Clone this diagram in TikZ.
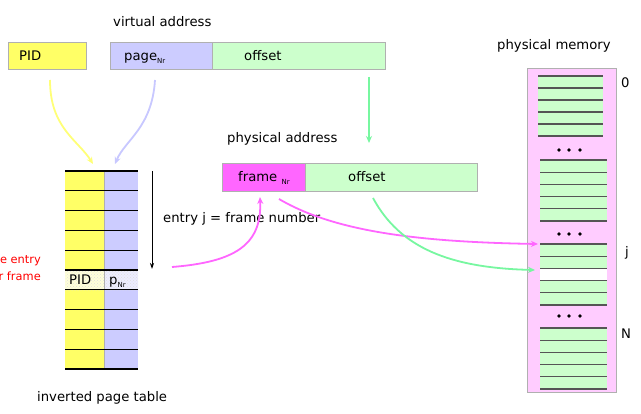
\documentclass[tikz,border=0pt]{standalone}
\usepackage{fontspec}
\setmainfont{DejaVu Sans}
\usetikzlibrary{arrows.meta,patterns}
\definecolor{vyellow}{HTML}{FFFF66}
\definecolor{vlav}{HTML}{CCCCFF}
\definecolor{vgreen}{HTML}{CCFFCC}
\definecolor{vmag}{HTML}{FF66FF}
\definecolor{vpink}{HTML}{FFCCFF}
\definecolor{agreen}{HTML}{77F7A0}
\definecolor{ayellow}{HTML}{FFFF77}
\definecolor{alav}{HTML}{C8C8FF}
\definecolor{boxgray}{HTML}{B0B0B0}
\definecolor{linegray}{HTML}{555555}
\begin{document}
\begin{tikzpicture}[x=1pt,y=-1pt,
  box/.style={draw=boxgray,line width=1pt,inner sep=0pt,anchor=north west},
  txt/.style={inner sep=0pt,font=\fontsize{13.2}{15}\selectfont},
  redtxt/.style={inner sep=0pt,text=red,font=\fontsize{11.4}{14}\selectfont},
  conn/.style={line width=1.8pt,-{Stealth[length=7pt,width=6pt]}},
  tline/.style={line width=1.3pt,black},
  mline/.style={line width=1.1pt,linegray}]
\clip (0,0) rectangle (641,414);
\fill[white] (0,0) rectangle (641,414);

% virtual address
\node[txt,anchor=base west] (vatitle) at (113,27) {virtual address};
\node[box,fill=vyellow,minimum width=78pt,minimum height=27pt] (pid) at (8,42) {};
\node[box,fill=vlav,minimum width=102pt,minimum height=27pt] (page) at (110,42) {};
\node[box,fill=vgreen,minimum width=173pt,minimum height=27pt] (voff) at (212,42) {};
\node[txt,anchor=base west] (pidt) at (19,61) {PID};
\node[txt,anchor=base west] (paget) at (124,61) {page\raisebox{-3pt}{\fontsize{7}{8}\selectfont Nr}};
\node[txt,anchor=base west] (vofft) at (244,61) {offset};

% physical address
\node[txt,anchor=base west] (patitle) at (227,143) {physical address};
\node[box,fill=vmag,minimum width=83pt,minimum height=28pt] (frame) at (222,163) {};
\node[box,fill=vgreen,minimum width=172pt,minimum height=28pt] (poff) at (305,163) {};
\node[txt,anchor=base west] (framet) at (238,182) {frame \raisebox{-3pt}{\fontsize{7}{8}\selectfont Nr}};
\node[txt,anchor=base west] (pofft) at (348,182) {offset};

% inverted page table
\fill[vyellow] (65,171) rectangle (104,369);
\fill[vlav] (104,171) rectangle (138,369);
\fill[vyellow!25] (65,270.4) rectangle (104,290.2);
\fill[vlav!35] (104,270.4) rectangle (138,290.2);
\fill[pattern=crosshatch dots,pattern color=black!12] (65,270.4) rectangle (138,290.2);
\draw[boxgray,line width=0.8pt] (104,171) -- (104,369);
\foreach \r in {0,...,10}{
  \draw[tline] (65,171+19.8*\r) -- (138,171+19.8*\r);
}
\node[txt,anchor=base west] (pidrow) at (69,285) {PID};
\node[txt,anchor=base west] (pnr) at (109,285) {p\raisebox{-3pt}{\fontsize{7}{8}\selectfont Nr}};
\node[txt,anchor=base west] (ipt) at (37,402) {inverted page table};
\node[redtxt,anchor=base east] (red1) at (41,264) {e entry};
\node[redtxt,anchor=base east] (red2) at (41,281) {r frame};

% entry j arrow
\coordinate (ejtop) at (152,171);
\coordinate (ejbot) at (152,269);
\draw[line width=0.8pt,-{Stealth[length=6pt,width=4pt]}] (ejtop) -- (ejbot);
\node[txt,anchor=base west] (entryj) at (163,223) {entry j = frame number};

% physical memory
\node[txt,anchor=base west] (pmtitle) at (497,50) {physical memory};
\node[box,fill=vpink,minimum width=89pt,minimum height=324pt] (mem) at (527,68) {};
\newcommand{\memblk}[4]{%
  \fill[vgreen] (#1,#2) rectangle (#3,#4);
  \foreach \k in {0,...,5}{\draw[mline] (#1,{#2+(#4-#2)*\k/5}) -- (#3,{#2+(#4-#2)*\k/5});}
}
\memblk{538}{76}{603}{136}
\memblk{540}{160}{607}{221}
\fill[vgreen] (540,244) rectangle (607,305);
\fill[white] (540,268.4) rectangle (607,280.6);
\foreach \k in {0,...,5}{\draw[mline] (540,{244+12.2*\k}) -- (607,{244+12.2*\k});}
\memblk{540}{328}{607}{389}
\foreach \yy in {150,234,316}{
  \foreach \xx in {559,569,580}{\fill[black] (\xx,\yy) circle (1.8);}
}
\node[txt,anchor=base west] (l0) at (621,88) {0};
\node[txt,anchor=base west] (lj) at (625,257) {j};
\node[txt,anchor=base west] (lN) at (621,339) {N};

% connectors
\coordinate (ys) at (50,80);
\coordinate (ye) at (93,164);
\coordinate (ls) at (155,80);
\coordinate (le) at (115,164);
\coordinate (gs) at (369,77);
\coordinate (ge) at (369,143);
\coordinate (m1s) at (172,267);
\coordinate (m1e) at (260,197);
\coordinate (m2s) at (279,199);
\coordinate (m2e) at (538,244);
\coordinate (g2s) at (373,198);
\coordinate (g2e) at (535,270);
\draw[conn,ayellow] (ys) .. controls (50,128) and (78,140) .. (ye);
\draw[conn,alav] (ls) .. controls (152,128) and (125,140) .. (le);
\draw[conn,agreen] (gs) -- (ge);
\draw[conn,vmag] (m1s) .. controls (235,262) and (262,245) .. (m1e);
\draw[conn,vmag] (m2s) .. controls (335,232) and (420,242) .. (m2e);
\draw[conn,agreen] (g2s) .. controls (400,248) and (450,268) .. (g2e);
\end{tikzpicture}
\end{document}
